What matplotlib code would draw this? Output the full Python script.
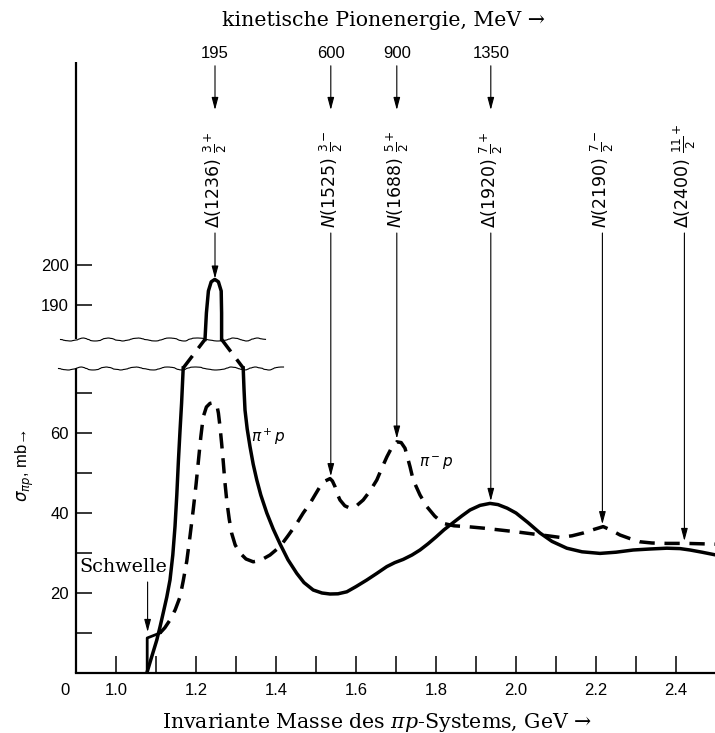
import numpy as np
import matplotlib
matplotlib.use('Agg')
import matplotlib.pyplot as plt

plt.rcParams['font.family'] = ['Liberation Sans', 'DejaVu Sans']

# pi+ p Wirkungsquerschnitt (mb), ausgezogen - drei Stuecke wegen Achsenbruch
pp_lo_x = [1.078, 1.09, 1.102, 1.11, 1.118, 1.127, 1.135, 1.142, 1.1475, 1.152,
           1.156, 1.16, 1.164, 1.168]
pp_lo_y = [0.3, 4.3, 8.25, 11.5, 15.0, 19.0, 23.25, 29.5, 36.6, 44.5,
           53.0, 60.5, 67.5, 76.25]
pp_hi_x = [1.2225, 1.226, 1.231, 1.238, 1.247, 1.256, 1.263, 1.264, 1.264]
pp_hi_y = [181.4, 188.0, 193.5, 195.8, 196.4, 195.8, 193.5, 188.0, 181.4]
pp_rt_x = [1.318, 1.32, 1.3225, 1.328, 1.335, 1.343, 1.352, 1.362, 1.377, 1.393,
           1.41, 1.43, 1.452, 1.47, 1.493, 1.515, 1.535, 1.555, 1.577, 1.60,
           1.627, 1.652, 1.677, 1.697, 1.718, 1.74, 1.76, 1.78, 1.80, 1.82,
           1.843, 1.865, 1.885, 1.91, 1.935, 1.955, 1.978, 2.0, 2.03, 2.06,
           2.09, 2.127, 2.165, 2.21, 2.25, 2.293, 2.335, 2.377, 2.41, 2.435,
           2.465, 2.5]
pp_rt_y = [76.25, 71.0, 65.75, 61.0, 56.6, 52.2, 48.25, 44.5, 40.0, 36.0,
           32.3, 28.3, 24.9, 22.6, 20.75, 20.0, 19.75, 19.8, 20.3, 21.6,
           23.25, 24.9, 26.6, 27.6, 28.4, 29.5, 30.75, 32.3, 34.0, 35.8,
           37.6, 39.3, 40.75, 41.9, 42.4, 42.1, 41.2, 40.0, 37.6, 35.0,
           32.9, 31.2, 30.3, 29.9, 30.2, 30.75, 31.0, 31.2, 31.1, 30.75,
           30.2, 29.5]

# pi- p Wirkungsquerschnitt (mb), gestrichelt
pm_thr_x = [1.078, 1.078, 1.11]
pm_thr_y = [0.0, 8.75, 10.0]
pm_x = [1.11, 1.122, 1.135, 1.148, 1.16, 1.168, 1.177, 1.185, 1.193, 1.2,
        1.206, 1.212, 1.218, 1.226, 1.235, 1.244, 1.252, 1.256, 1.26, 1.264,
        1.268, 1.272, 1.277, 1.283, 1.289, 1.298, 1.31, 1.325, 1.343, 1.362,
        1.385, 1.41, 1.43, 1.452, 1.468, 1.485, 1.498, 1.51, 1.523, 1.535,
        1.541, 1.5475, 1.553, 1.56, 1.572, 1.585, 1.60, 1.618, 1.635, 1.652,
        1.665, 1.677, 1.69, 1.702, 1.713, 1.7225, 1.735, 1.743, 1.76, 1.777,
        1.797, 1.818, 1.845, 1.877, 1.92, 1.96, 2.0, 2.043, 2.08, 2.11,
        2.14, 2.168, 2.195, 2.218, 2.24, 2.26, 2.285, 2.31, 2.34, 2.377,
        2.427, 2.5]
pm_y = [10.0, 11.3, 13.25, 15.8, 19.0, 23.0, 28.0, 34.2, 40.75, 47.0,
        53.0, 59.0, 64.0, 66.5, 67.4, 67.6, 67.0, 65.0, 61.6, 57.5,
        53.0, 48.0, 43.0, 38.5, 35.0, 32.0, 30.0, 28.5, 27.8, 28.2,
        29.5, 31.6, 34.3, 37.4, 40.0, 42.4, 44.6, 46.6, 48.0, 48.6,
        48.0, 46.6, 44.8, 43.25, 41.8, 41.2, 41.7, 43.25, 45.5, 48.25,
        51.3, 54.0, 56.5, 57.8, 57.6, 56.2, 51.6, 48.25, 44.5, 41.6,
        39.2, 37.4, 36.8, 36.6, 36.2, 35.75, 35.3, 34.75, 34.3, 33.9,
        34.3, 35.0, 35.9, 36.6, 35.6, 34.5, 33.6, 32.8, 32.5, 32.4,
        32.4, 32.2]
# gestrichelte Verbindung ueber den Bruch
br_l_x = [1.168, 1.2225]
br_l_y = [76.25, 181.4]
br_r_x = [1.264, 1.318]
br_r_y = [181.4, 76.25]

# Resonanzen
res_x = [1.2475, 1.537, 1.702, 1.937, 2.216, 2.421]
res_tip = [196.6, 49.2, 58.6, 43.0, 37.2, 33.0]
res_lbl = [r'Δ(1236) $\frac{3}{2}^{+}$', r'$N$(1525) $\frac{3}{2}^{-}$',
           r'$N$(1688) $\frac{5}{2}^{+}$', r'Δ(1920) $\frac{7}{2}^{+}$',
           r'$N$(2190) $\frac{7}{2}^{-}$', r'Δ(2400) $\frac{11}{2}^{+}$']
energy_lbl = ['195', '600', '900', '1350']

x_ticks = [1.0, 1.1, 1.2, 1.3, 1.4, 1.5, 1.6, 1.7, 1.8, 1.9, 2.0, 2.1, 2.2, 2.3, 2.4]
x_ticklbl = ['1.0', '', '1.2', '', '1.4', '', '1.6', '', '1.8', '', '2.0', '', '2.2', '', '2.4']
y_ticks = [10, 20, 30, 40, 50, 60, 70, 190, 200]
y_ticklbl = ['', '20', '', '40', '', '60', '', '190', '200']

threshold = 1.079

# gebrochene y-Achse
LOW_CUT, HIGH_CUT, SHIFT = 76.25, 181.4, 98.0
GAP_U = HIGH_CUT - SHIFT


def fwd(y):
    y = np.asarray(y, float)
    mid = LOW_CUT + (y - LOW_CUT) * (GAP_U - LOW_CUT) / (HIGH_CUT - LOW_CUT)
    return np.where(y <= LOW_CUT, y, np.where(y >= HIGH_CUT, y - SHIFT, mid))


def inv(u):
    u = np.asarray(u, float)
    mid = LOW_CUT + (u - LOW_CUT) * (HIGH_CUT - LOW_CUT) / (GAP_U - LOW_CUT)
    return np.where(u <= LOW_CUT, u, np.where(u >= GAP_U, u + SHIFT, mid))


fig = plt.figure(figsize=(7.15, 7.33), dpi=100)
ax = fig.add_axes([76 / 715, 60 / 733, 639 / 715, 611 / 733])
ax.set_yscale('function', functions=(fwd, inv))
ax.set_xlim(0.9, 2.4975)
ax.set_ylim(0, 250.75)

for s in ['top', 'right', 'left']:
    ax.spines[s].set_visible(False)
ax.spines['bottom'].set_linewidth(1.6)
ax.plot([0.9, 0.9], [0, LOW_CUT], color='k', lw=1.6, clip_on=False, solid_capstyle='butt')
ax.plot([0.9, 0.9], [HIGH_CUT, 250.75], color='k', lw=1.6, clip_on=False, solid_capstyle='butt')

# Wellenlinien am Bruch
for xs, yb in [([0.855, 1.4175], LOW_CUT), ([0.86, 1.3725], HIGH_CUT)]:
    wave, = ax.plot(xs, [yb, yb], color='k', lw=0.8, clip_on=False)
    wave.set_sketch_params(1.5, 35, 3)

ax.set_xticks(x_ticks)
ax.set_xticklabels(x_ticklbl)
ax.set_yticks(y_ticks)
ax.set_yticklabels(y_ticklbl)
ax.minorticks_off()
ax.tick_params(axis='x', direction='in', length=12, width=1.1, labelsize=12, pad=7.5)
ax.tick_params(axis='y', direction='in', length=11.5, width=1.1, labelsize=12, pad=5)
ax.annotate('0', xy=(0, 0), xycoords='axes fraction', xytext=(-8, -12.5),
            textcoords='offset points', ha='center', va='center', fontsize=12)

lw = 2.5
sty = dict(color='k', lw=lw, solid_joinstyle='round', dash_joinstyle='round')
ax.plot(pp_lo_x, pp_lo_y, **sty)
ax.plot(pp_hi_x, pp_hi_y, **sty)
ax.plot(pp_rt_x, pp_rt_y, **sty)
ax.plot(pm_thr_x, pm_thr_y, color='k', lw=2.0)
ax.plot(pm_x, pm_y, dashes=(4.4, 2.8), **sty)
ax.plot(br_l_x, br_l_y, dashes=(4.4, 2.8), **sty)
ax.plot(br_r_x, br_r_y, dashes=(4.4, 2.8), **sty)

arr = dict(arrowstyle='-|>,head_length=0.75,head_width=0.2', color='k', lw=0.8,
           mutation_scale=10, shrinkA=0, shrinkB=0)
for x, tip, lbl in zip(res_x, res_tip, res_lbl):
    ax.annotate('', xy=(x, tip), xytext=(x, 208), arrowprops=arr)
    ax.text(x, 209.2, lbl, rotation=90, ha='center', va='bottom', fontsize=12.5,
            family='DejaVu Sans', math_fontfamily='dejavusans')
for x, lbl in zip(res_x, energy_lbl):
    ax.annotate('', xy=(x, 238.75), xytext=(x, 249.8), arrowprops=arr,
                annotation_clip=False)
    ax.text(x, 253, lbl, ha='center', va='center', fontsize=12)

ax.annotate('', xy=(threshold, 10.25), xytext=(threshold, 22.75), arrowprops=arr)
ax.text(0.9075, 26.5, 'Schwelle', family='DejaVu Serif', fontsize=13.8,
        ha='left', va='center')
ax.text(1.38, 59, r'$\pi^+p$', fontsize=11, ha='center', va='center',
        math_fontfamily='dejavusans')
ax.text(1.80, 52.5, r'$\pi^-p$', fontsize=11, ha='center', va='center',
        math_fontfamily='dejavusans')

fig.text(377 / 715, 1 - 722 / 733, r'Invariante Masse des $\pi p$-Systems, GeV →',
         family='DejaVu Serif', fontsize=14.8, ha='center', va='center',
         math_fontfamily='dejavuserif')
fig.text(383 / 715, 1 - 20 / 733, 'kinetische Pionenergie, MeV →',
         family='DejaVu Serif', fontsize=14.8, ha='center', va='center')
fig.text(25 / 715, 1 - 466 / 733, r'$\sigma_{\pi p}$, mb→', rotation=90,
         fontsize=12, ha='center', va='center', math_fontfamily='dejavusans')

fig.savefig('out.png', dpi=100)
